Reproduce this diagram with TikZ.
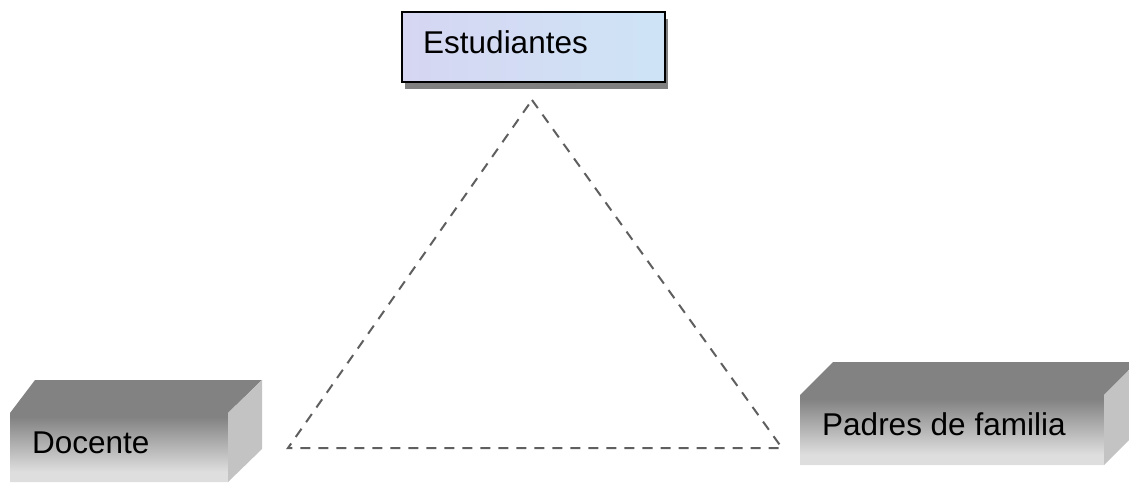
\documentclass[tikz,border=0pt]{standalone}
\usepackage{fontspec}
\setmainfont{Liberation Sans}
\usetikzlibrary{shadows}
\definecolor{boxdark}{HTML}{828282}
\definecolor{boxlight}{HTML}{DEDEDE}
\definecolor{boxside}{HTML}{C3C3C3}
\definecolor{dashgray}{HTML}{5F5F5F}
\definecolor{shadowgray}{HTML}{808080}
\definecolor{studleft}{RGB}{214,214,242}
\definecolor{studright}{RGB}{206,228,246}
\pgfdeclareverticalshading{cubefront}{100bp}{color(0bp)=(boxlight); color(30bp)=(boxlight); color(57bp)=(boxdark); color(100bp)=(boxdark)}
\tikzset{
  lbl/.style={font=\fontsize{31.5}{36}\selectfont, inner sep=0pt, text=black},
  studbox/.style={draw=black, line width=1.5pt, left color=studleft, right color=studright,
    drop shadow={shadow xshift=3pt, shadow yshift=-7pt, fill=shadowgray, opacity=1}, inner sep=0pt},
  sideface/.style={fill=boxside},
  tri/.style={draw=dashgray, line width=2pt, dash pattern=on 10pt off 8pt, line join=miter},
}
\begin{document}
\begin{tikzpicture}[x=1pt,y=-1pt]
\useasboundingbox (0,0) rectangle (1129,483);
\clip (0,0) rectangle (1129,483);
% Estudiantes
\node[studbox, minimum width=263pt, minimum height=70pt] (stud) at (533.5,47) {};
\node[lbl, anchor=base west] (studtxt) at (423,53) {Estudiantes};
% Docente cube
\shade[shading=cubefront] (10,413) -- (35,380) -- (262,380) -- (228,413) -- (228,482) -- (10,482) -- cycle;
\fill[sideface] (228,413) -- (262,380) -- (262,449) -- (228,482) -- cycle;
\node[lbl, anchor=base west] (doc) at (32,453) {Docente};
% Padres cube
\shade[shading=cubefront] (800,395) -- (833,362) -- (1137,362) -- (1104,395) -- (1104,465) -- (800,465) -- cycle;
\fill[sideface] (1104,395) -- (1137,362) -- (1137,432) -- (1104,465) -- cycle;
\node[lbl, anchor=base west] (pad) at (822,435) {Padres de familia};
% triangle
\coordinate (apex) at (532,100);
\coordinate (bl) at (288,448);
\coordinate (br) at (782,448);
\draw[tri] (apex) -- (br) -- (bl) -- cycle;
\end{tikzpicture}
\end{document}
